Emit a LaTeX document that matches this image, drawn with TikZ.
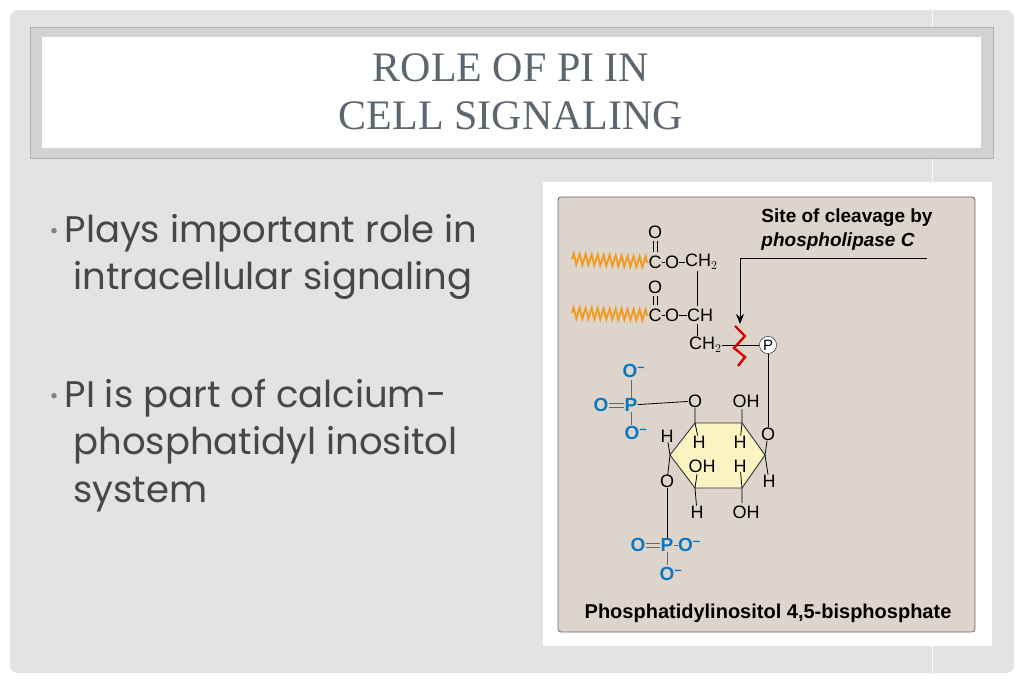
\documentclass[tikz,border=0pt]{standalone}
\usepackage{fontspec}
\setmainfont{Liberation Sans}
\newfontfamily\slidefont{Poppins}
\newfontfamily\titlefont{Liberation Serif}
\usetikzlibrary{positioning, decorations.pathmorphing, arrows.meta}
\definecolor{slidebg}{HTML}{E3E3E3}
\definecolor{titlegray}{HTML}{5C6670}
\definecolor{bodygray}{HTML}{474747}
\definecolor{panelbg}{HTML}{DDD5CB}
\definecolor{ringfill}{HTML}{FBF3C2}
\definecolor{pblue}{HTML}{0A78C0}
\definecolor{fatorange}{HTML}{F59A1E}
\newcommand{\minus}{\textsuperscript{\textbf{--}}}
\newcommand{\dotmark}{\textcolor{gray}{\raisebox{4pt}{\fontsize{22}{22}\selectfont\textbullet}}\hspace{6pt}}
\tikzset{
  atom/.style={inner sep=0pt, font=\fontsize{18}{18}\selectfont},
  blueatom/.style={atom, text=pblue, font=\fontsize{19}{19}\selectfont\bfseries},
  bond/.style={draw, line width=0.8pt},
  dbond/.style={draw, line width=0.6pt},
  bullet/.style={anchor=base west, text=bodygray, font=\slidefont\fontsize{37}{37}\selectfont},
  fatty/.style={draw=fatorange, line width=1.8pt, decorate, decoration={zigzag, amplitude=5.5pt, segment length=6pt}}
}
\begin{document}
\begin{tikzpicture}[x=1pt,y=-1pt]
\useasboundingbox (0,0) rectangle (1024,683);
\fill[white] (0,0) rectangle (1024,683);
\fill[slidebg, rounded corners=8pt] (10,10) rectangle (1014,673);
\draw[white, line width=1pt] (932,10) -- (932,673);
% title box
\filldraw[fill=gray!35, draw=gray!60] (30,27) rectangle (993,158);
\fill[white] (42,37) rectangle (981,148);
\node[text=titlegray, font=\titlefont\fontsize{42}{48}\selectfont, align=center] (title) at (511,92) {ROLE OF PI IN\\CELL SIGNALING};
% bullets
\node[bullet] (b1) at (46,242) {\dotmark Plays important role in};
\node[bullet] (b1b) at (70,289) {intracellular signaling};
\node[bullet] (b2) at (46,407) {\dotmark PI is part of calcium-};
\node[bullet] (b2b) at (70,454) {phosphatidyl inositol};
\node[bullet] (b2c) at (70,502) {system};
% picture panel
\fill[white] (543,182) rectangle (992,646);
\filldraw[fill=panelbg, draw=gray!80!black, line width=0.8pt, rounded corners=3pt] (558,197) rectangle (975,632);
\node[font=\fontsize{19}{24}\selectfont\bfseries, align=left] (site) at (847,230) {Site of cleavage by\\\textit{phospholipase C}};
\node[font=\fontsize{20}{20}\selectfont\bfseries] (caption) at (768,613) {Phosphatidylinositol 4,5-bisphosphate};
% glycerol backbone
\node[atom] (c1) at (655,262) {C};
\node[atom] (o1) at (655,232) {O};
\node[atom] (e1) at (672,262) {O};
\node[atom, anchor=west] (ch2a) at (685,262) {CH$_2$};
\node[atom] (c2) at (655,315) {C};
\node[atom] (o2) at (655,287) {O};
\node[atom] (e2) at (672,315) {O};
\node[atom, anchor=west] (ch) at (687,315) {CH};
\node[atom, anchor=west] (ch2b) at (689,345) {CH$_2$};
\draw[dbond] (653,241) -- (653,252) (657,241) -- (657,252);
\draw[dbond] (653,296) -- (653,305) (657,296) -- (657,305);
\draw[bond] (c1) -- (e1) -- (ch2a);
\draw[bond] (c2) -- (e2) -- (ch);
\draw[bond] (697,271) -- (697,306);
\draw[bond] (697,324) -- (697,336);
\draw[fatty] (572,259) -- (c1.west);
\draw[fatty] (572,313) -- (c2.west);
% cleavage
\node[circle, draw, inner sep=1pt, fill=white, font=\fontsize{15}{15}\selectfont] (p) at (768,345) {P};
\draw[bond] (ch2b) -- (p);
\draw[red!85!black, line width=2.4pt] (735,326) -- (745,336) -- (734,348) -- (745,357) -- (738,366);
\coordinate (arrowstart) at (927,258);
\draw[line width=0.8pt, -{Stealth[length=10pt,width=8pt]}] (arrowstart) -- (740,258) -- (740,324);
% inositol ring
\coordinate (r1) at (695,423);
\coordinate (r2) at (742,423);
\coordinate (r3) at (765,455);
\coordinate (r4) at (742,488);
\coordinate (r5) at (695,488);
\coordinate (r6) at (670,455);
\filldraw[fill=ringfill, draw=black!80, line width=0.9pt] (r1) -- (r2) -- (r3) -- (r4) -- (r5) -- (r6) -- cycle;
\node[atom] (ro1) at (695,401) {O};
\node[atom] (roh2) at (746,401) {OH};
\node[atom] (ro3) at (768,434) {O};
\node[atom] (rh3) at (769,481) {H};
\node[atom] (roh4) at (746,512) {OH};
\node[atom] (rh5) at (697,512) {H};
\node[atom] (rh6) at (667,436) {H};
\node[atom] (ro6) at (667,481) {O};
\node[atom] (rh1) at (699,442) {H};
\node[atom] (rh2) at (740,442) {H};
\node[atom] (roh5) at (702,466) {OH};
\node[atom] (rh4) at (740,466) {H};
\draw[bond] (ro1) -- (r1) -- (rh1);
\draw[bond] (742,409) -- (r2) -- (rh2);
\draw[bond] (ro3) -- (r3) -- (rh3);
\draw[bond] (rh4) -- (r4) -- (742,503);
\draw[bond] (697,474) -- (r5) -- (rh5);
\draw[bond] (rh6) -- (r6) -- (ro6);
\draw[bond] (p) -- (ro3);
% phosphate groups
\node[blueatom] (pa) at (631,405) {P};
\node[blueatom] (pa1) at (634,371) {O\minus};
\node[blueatom] (pa2) at (601,405) {O};
\node[blueatom] (pa3) at (636,433) {O\minus};
\draw[bond, black!60] (631,380) -- (pa);
\draw[bond, black!60] (pa) -- (631,425);
\draw[dbond, black!60] (609,403) -- (624,403) (609,407) -- (624,407);
\draw[bond] (pa) -- (ro1);
\node[blueatom] (pb) at (667,545) {P};
\node[blueatom] (pb1) at (638,545) {O};
\node[blueatom, anchor=west] (pb2) at (678,545) {O\minus};
\node[blueatom] (pb3) at (671,574) {O\minus};
\draw[dbond, black!60] (646,543) -- (660,543) (646,547) -- (660,547);
\draw[bond, black!60] (pb) -- (pb2);
\draw[bond, black!60] (pb) -- (667,565);
\draw[bond] (ro6) -- (pb);
\end{tikzpicture}
\end{document}
